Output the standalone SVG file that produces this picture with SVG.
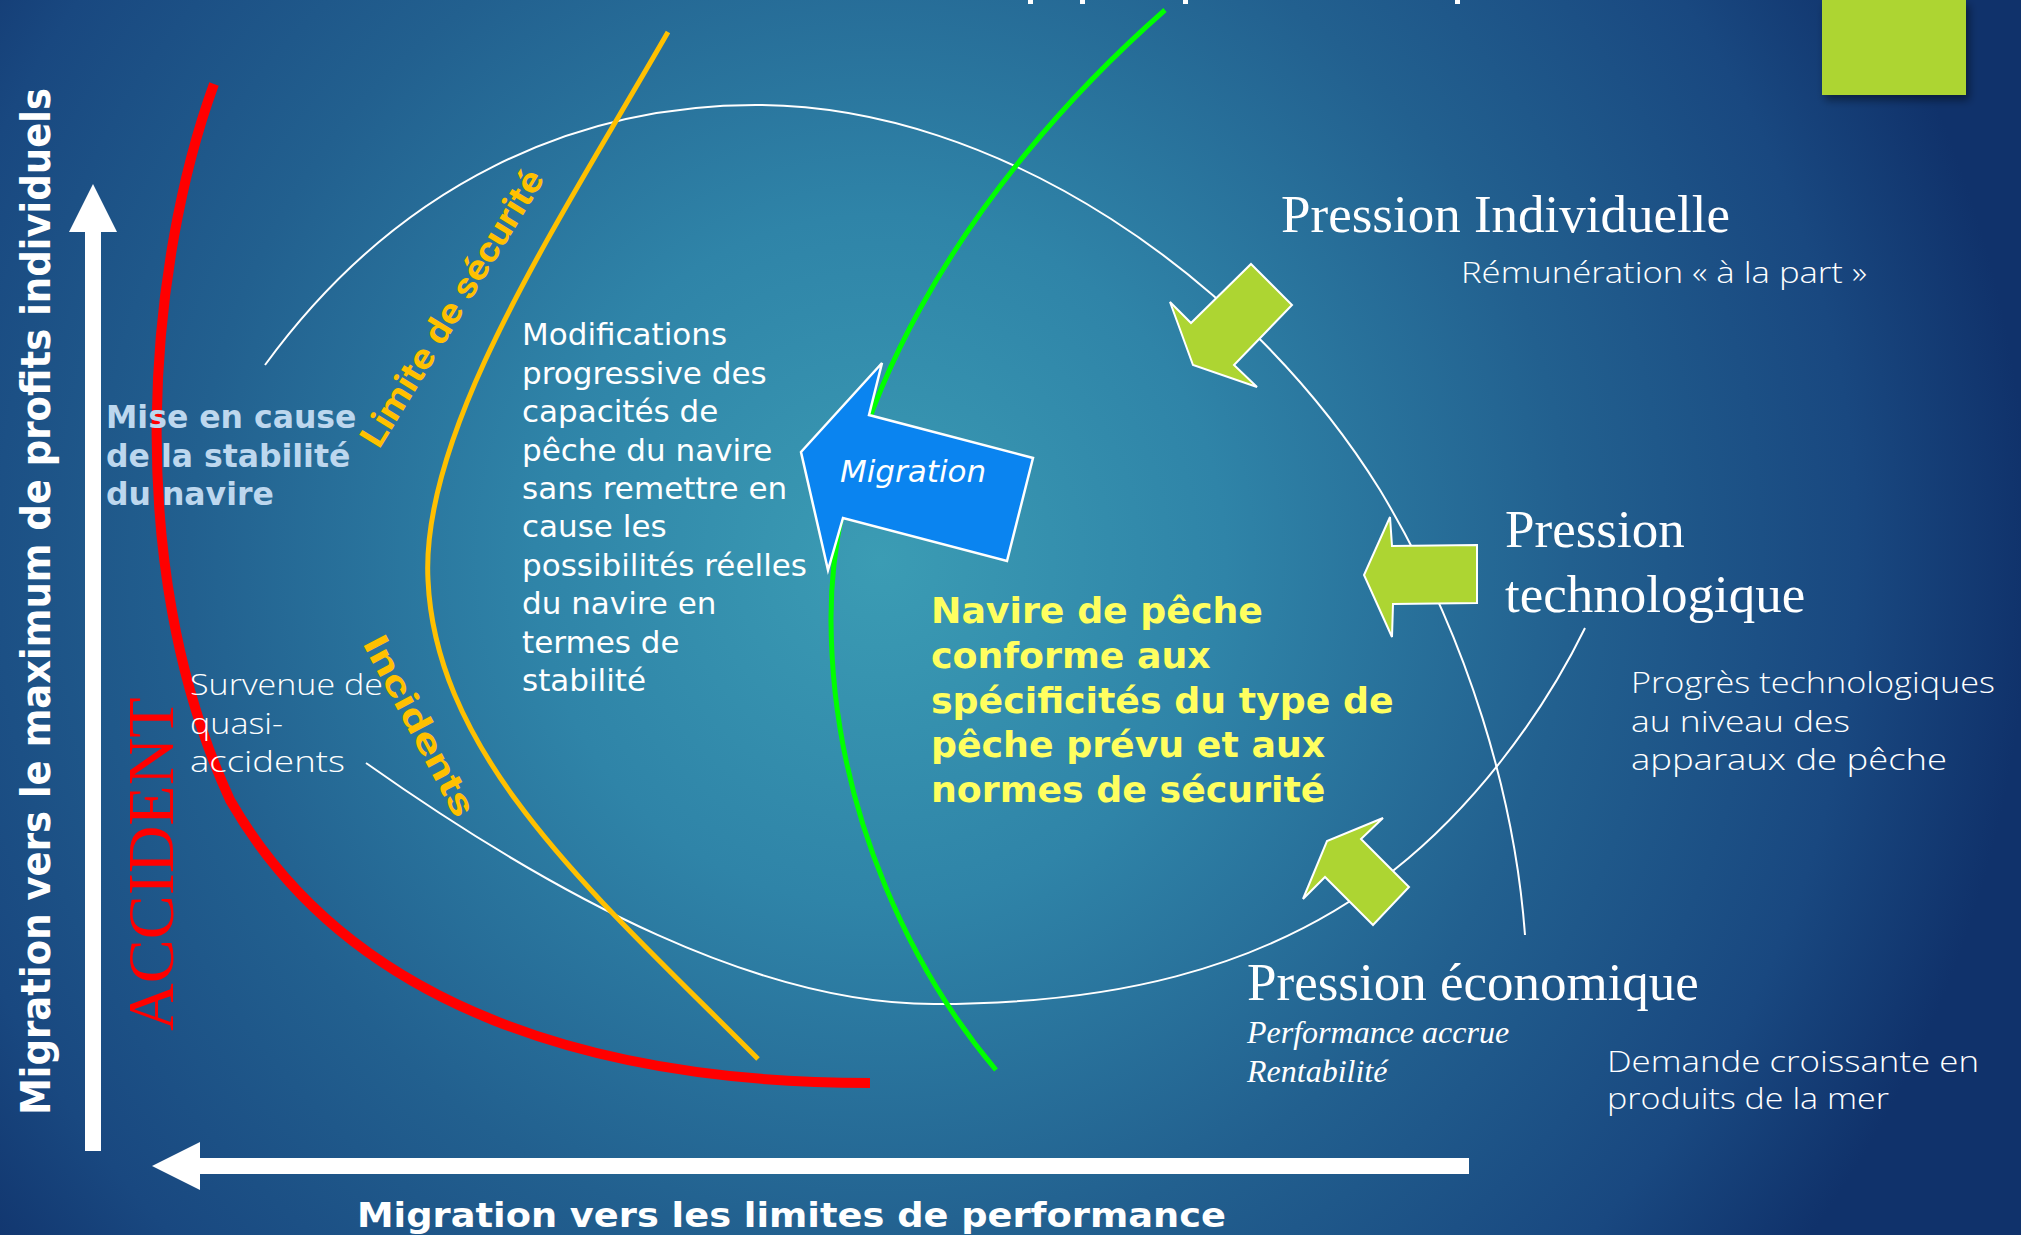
<svg xmlns="http://www.w3.org/2000/svg" width="2021" height="1235" viewBox="0 0 2021 1235">
  <defs>
    <radialGradient id="bg" cx="880" cy="560" r="1150" gradientUnits="userSpaceOnUse">
      <stop offset="0" stop-color="#3b9cb4"/>
      <stop offset="0.3" stop-color="#2f84a8"/>
      <stop offset="0.6" stop-color="#22608f"/>
      <stop offset="0.85" stop-color="#194880"/>
      <stop offset="1" stop-color="#10326b"/>
    </radialGradient>
    <filter id="drop" x="-20%" y="-20%" width="150%" height="150%">
      <feDropShadow dx="3" dy="5" stdDeviation="4" flood-color="#000" flood-opacity="0.45"/>
    </filter>
  </defs>
  <style>
    .serif { font-family: "Liberation Serif", "Times New Roman", serif; fill: #ffffff; }
    .gothic { font-family: "Open Sans", "DejaVu Sans", sans-serif; font-weight: 300; fill: #ffffff; font-size: 30px; }
    .verd { font-family: "DejaVu Sans", Verdana, sans-serif; }
    .bold { font-family: "DejaVu Sans", Verdana, sans-serif; font-weight: bold; }
    .label { font-family: Roboto, "Liberation Sans", sans-serif; font-weight: bold; fill: #ffc000; font-size: 35px; }
    .push { fill: #add532; stroke: #ffffff; stroke-width: 2; stroke-linejoin: miter; }
    .loop { fill: none; stroke: #ffffff; stroke-width: 2; }
    .axis { fill: #ffffff; }
  </style>

  <!-- background -->
  <rect x="0" y="0" width="2021" height="1235" fill="url(#bg)"/>

  <!-- corner tab -->
  <rect id="corner-tab" x="1822" y="0" width="144" height="95" fill="#add532" filter="url(#drop)"/>

  <!-- descenders of the heading above the frame -->
  <g id="heading-tail" fill="#ffffff">
    <rect x="1028" y="0" width="5" height="4"/>
    <rect x="1080" y="0" width="5" height="4"/>
    <rect x="1183" y="0" width="5" height="4"/>
    <rect x="1455" y="0" width="5" height="4"/>
  </g>

  <g id="connectors">
    <!-- operating envelope loop -->
    <path class="loop" d="M265,365 C400,180 580,105 756,105 C1000,105 1250,280 1380,490 C1470,640 1515,800 1525,935"/>
    <path class="loop" d="M1585,628 C1540,720 1470,810 1394,870 C1260,975 1100,1004 934,1004 C760,1004 560,900 366,763"/>

    <!-- boundaries -->
    <path id="accident-boundary" d="M214,84 C150,260 120,560 230,800 C350,1010 600,1083 870,1083" fill="none" stroke="#ff0000" stroke-width="10"/>
    <path id="safety-boundary" d="M668,32 C560,220 420,430 428,580 C436,760 600,900 758,1059" fill="none" stroke="#ffc000" stroke-width="5"/>
    <path id="performance-boundary" d="M1165,10 C960,190 830,420 831,620 C832,820 920,980 996,1070" fill="none" stroke="#00ff00" stroke-width="5"/>

    <!-- axes -->
    <g id="axis-y" class="axis">
      <rect x="85" y="230" width="16" height="921"/>
      <polygon points="93,184 117,232 69,232"/>
    </g>
    <g id="axis-x" class="axis">
      <rect x="199" y="1158" width="1270" height="16"/>
      <polygon points="152,1166 200,1142 200,1190"/>
    </g>
  </g>

  <!-- axis titles -->
  <text id="axis-y-title" class="bold" fill="#ffffff" font-size="40" transform="translate(50,1115) rotate(-90)" textLength="1027" lengthAdjust="spacingAndGlyphs">Migration vers le maximum de profits individuels</text>
  <text id="axis-x-title" class="bold" fill="#ffffff" font-size="34" x="357" y="1227" textLength="869" lengthAdjust="spacingAndGlyphs">Migration vers les limites de performance</text>

  <!-- accident zone -->
  <g id="accident">
    <text class="serif" style="fill:#ff0000" font-size="66" transform="translate(173,1031) rotate(-90)">ACCIDENT</text>
  </g>

  <g id="stability">
    <text class="bold" fill="#bdd7ee" font-size="31.5">
      <tspan x="106" y="428">Mise en cause</tspan>
      <tspan x="106" y="467">de la stabilité</tspan>
      <tspan x="106" y="505">du navire</tspan>
    </text>
  </g>

  <g id="near-misses">
    <text class="gothic" x="190" y="695" textLength="193" lengthAdjust="spacingAndGlyphs">Survenue de</text>
    <text class="gothic" x="190" y="734" textLength="93" lengthAdjust="spacingAndGlyphs">quasi-</text>
    <text class="gothic" x="190" y="772" textLength="155" lengthAdjust="spacingAndGlyphs">accidents</text>
  </g>

  <g id="safety-limit">
    <text class="label" transform="translate(379,450) rotate(-58.5)" textLength="318" lengthAdjust="spacingAndGlyphs">Limite de sécurité</text>
  </g>

  <g id="incidents">
    <text class="label" transform="translate(362,643) rotate(62)" textLength="200" lengthAdjust="spacingAndGlyphs">Incidents</text>
  </g>

  <g id="modifications">
    <text class="verd" fill="#ffffff" font-size="31">
      <tspan x="522" y="345">Modifications</tspan>
      <tspan x="522" y="384">progressive des</tspan>
      <tspan x="522" y="422">capacités de</tspan>
      <tspan x="522" y="461">pêche du navire</tspan>
      <tspan x="522" y="499">sans remettre en</tspan>
      <tspan x="522" y="537">cause les</tspan>
      <tspan x="522" y="576">possibilités réelles</tspan>
      <tspan x="522" y="614">du navire en</tspan>
      <tspan x="522" y="653">termes de</tspan>
      <tspan x="522" y="691">stabilité</tspan>
    </text>
  </g>

  <g id="migration">
    <polygon points="801,452 882,363 869,415 1033,458 1007,561 843,518 828,570" fill="#0a84f0" stroke="#ffffff" stroke-width="2.5" stroke-linejoin="miter"/>
    <text class="verd" fill="#ffffff" font-size="31" font-style="italic" x="840" y="482">Migration</text>
  </g>

  <g id="compliant-vessel">
    <text class="bold" fill="#ffff5f" font-size="36.3">
      <tspan x="931" y="623">Navire de pêche</tspan>
      <tspan x="931" y="668">conforme aux</tspan>
      <tspan x="931" y="713">spécificités du type de</tspan>
      <tspan x="931" y="757">pêche prévu et aux</tspan>
      <tspan x="931" y="802">normes de sécurité</tspan>
    </text>
  </g>

  <!-- pressures pushing on the envelope -->
  <g id="pression-individuelle">
    <polygon class="push" points="1251,264 1292,305 1234,365 1257,387 1193,365 1170,302 1191,323"/>
    <text class="serif" font-size="53" x="1281" y="232">Pression Individuelle</text>
    <text class="gothic" x="1461" y="283" textLength="406" lengthAdjust="spacingAndGlyphs">Rémunération « à la part »</text>
  </g>

  <g id="pression-technologique">
    <polygon class="push" points="1390,517 1392,546 1477,545 1477,603 1393,604 1392,637 1364,575"/>
    <text class="serif" font-size="53">
      <tspan x="1505" y="547">Pression</tspan>
      <tspan x="1505" y="612">technologique</tspan>
    </text>
    <text class="gothic" x="1631" y="693" textLength="364" lengthAdjust="spacingAndGlyphs">Progrès technologiques</text>
    <text class="gothic" x="1631" y="732" textLength="219" lengthAdjust="spacingAndGlyphs">au niveau des</text>
    <text class="gothic" x="1631" y="770" textLength="316" lengthAdjust="spacingAndGlyphs">apparaux de pêche</text>
  </g>

  <g id="pression-economique">
    <polygon class="push" points="1383,818 1361,839 1409,887 1373,925 1325,877 1303,899 1327,841"/>
    <text class="serif" font-size="53" x="1247" y="1000">Pression économique</text>
    <text class="serif" font-size="32" font-style="italic">
      <tspan x="1247" y="1043">Performance accrue</tspan>
      <tspan x="1247" y="1082">Rentabilité</tspan>
    </text>
    <text class="gothic" x="1607" y="1072" textLength="372" lengthAdjust="spacingAndGlyphs">Demande croissante en</text>
    <text class="gothic" x="1607" y="1109" textLength="282" lengthAdjust="spacingAndGlyphs">produits de la mer</text>
  </g>
</svg>
